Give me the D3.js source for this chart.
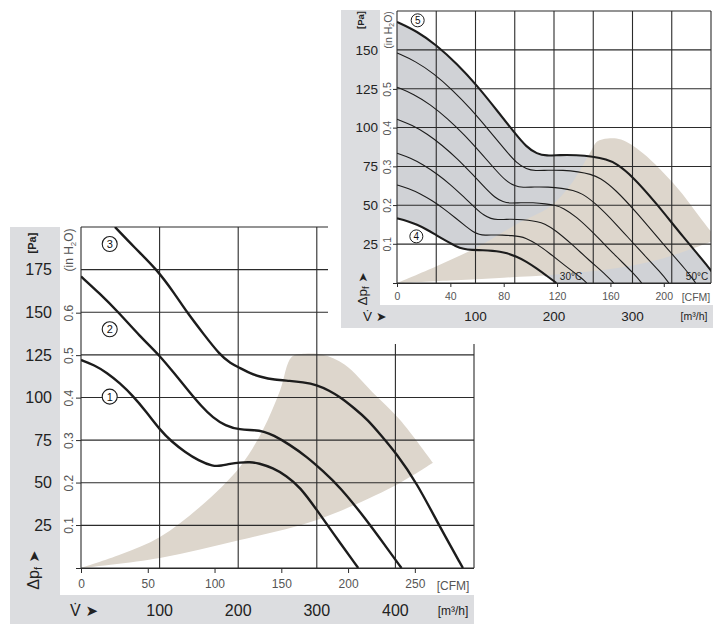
<!DOCTYPE html>
<html><head><meta charset="utf-8">
<script src="https://cdn.jsdelivr.net/npm/d3@7"></script>
<style>
body{margin:0;background:#fff;}
svg{display:block;font-family:"Liberation Sans",Arial,Helvetica,sans-serif;}
</style></head><body>
<svg id="c" width="713" height="630"></svg>
<script>
// ===== DATA: large chart (curves 1-3), [CFM, Pa] =====
const curve1 = [[0,122],[10,119],[19.5,114.5],[29,108.5],[38.9,101],[49,91.5],[59.1,81],[68,74],[77.8,68.1],[88,63],[98.8,59.6],[105,60],[111.5,61.1],[119,61.9],[126.5,62.2],[133,61.5],[143.7,58.7],[154,54],[163.9,47.6],[176.6,34.1],[188.6,20.6],[207.6,0]];
const curve2 = [[0,171],[14,161],[27.7,150.3],[44,136],[59.1,124.5],[70,114],[81.6,102.8],[90,95],[98.8,88.1],[108,83.5],[119,81],[130,81],[137,80],[143.7,78.1],[156,72.5],[169.2,65.2],[181,57],[193.9,47.6],[213.8,28.2],[228.8,12],[240,0]];
const curve3 = [[25.4,200],[40,188],[56.9,175],[70,161],[79.3,150],[92,137],[104,125],[112,120],[119,117.4],[127,114],[134,112.2],[145,110.3],[156.4,109.8],[166,109],[176.6,107.5],[186,104],[193.9,100.4],[205,93.5],[214.8,86.9],[225,77.5],[235.8,67.5],[251.5,49.9],[268.7,24.1],[286,0]];
const zoneBigUpper = [[0,0],[30,8],[59.1,18.2],[89,35.8],[119,59.3],[136.2,81],[149,104],[157.9,123.9],[167.7,125.7],[181.1,125.1],[197.6,119.2],[218.6,102.8],[238.8,86.9],[263.5,61.7]];
const zoneBigLower = [[263.5,61.7],[233.5,47.6],[176.6,28.2],[119,16.4],[59.1,5.9],[0,0]];
const bigPaTicks = [25,50,75,100,125,150,175];
const bigInTicks = [0.1,0.2,0.3,0.4,0.5,0.6];
const bigCfmTicks = [0,50,100,150,200,250];
const bigM3Ticks = [100,200,300,400];
const bigLabels = [{t:"1",cfm:21.5,pa:100.5},{t:"2",cfm:21.5,pa:140},{t:"3",cfm:21.5,pa:190}];

// ===== DATA: small chart (curves 4-5 and intermediate), [CFM, Pa] =====
const curve5 = [[0,168],[15,162],[29.7,153],[45,141],[59.6,127.5],[75,111],[88.3,96.4],[97,87.5],[105,83],[112,81.8],[122,82.4],[134.5,82.4],[147,81.3],[157,79.5],[164.4,77],[176.9,68.4],[194.4,51.3],[214.3,29.8],[235.5,8.4],[242,0]];
const curveT1 = [[0,148],[13.9,142.7],[27.5,134.8],[41.6,124.2],[55.1,112.3],[69.4,97.8],[81.7,84.9],[89.7,77.1],[97.1,73.1],[103.6,72.1],[112.9,72.6],[124.4,72.6],[136,71.6],[145.2,70],[152.1,67.8],[163.6,60.3],[179.8,45.2],[198.2,26.3],[217.8,7.4],[223.9,0]];
const curveT2 = [[0,126],[12.6,121.5],[25,114.8],[37.9,105.8],[50.2,95.6],[63.2,83.3],[74.3,72.3],[81.7,65.6],[88.4,62.3],[94.3,61.4],[102.7,61.8],[113.2,61.8],[123.8,61],[132.2,59.6],[138.4,57.8],[148.9,51.3],[163.7,38.5],[180.4,22.4],[198.3,6.3],[203.8,0]];
const curveT3 = [[0,105.4],[11.4,101.6],[22.5,96],[34.1,88.5],[45.2,80],[56.9,69.6],[66.9,60.5],[73.5,54.9],[79.6,52.1],[84.9,51.3],[92.5,51.7],[102,51.7],[111.4,51],[119,49.9],[124.6,48.3],[134.1,42.9],[147.4,32.2],[162.4,18.7],[178.5,5.3],[183.4,0]];
const curveT4 = [[0,83.5],[10.1,80.5],[19.9,76],[30.2,70.1],[40,63.4],[50.3,55.2],[59.2,47.9],[65.1,43.5],[70.5,41.3],[75.2,40.7],[81.9,41],[90.2,41],[98.6,40.4],[105.3,39.5],[110.3,38.3],[118.7,34],[130.4,25.5],[143.8,14.8],[158,4.2],[162.4,0]];
const curveT5 = [[0,63.1],[8.8,60.8],[17.4,57.5],[26.4,53],[35,47.9],[44.1,41.7],[51.9,36.2],[57,32.9],[61.7,31.2],[65.8,30.7],[71.7,30.9],[79,30.9],[86.4,30.5],[92.2,29.9],[96.6,28.9],[103.9,25.7],[114.2,19.3],[125.9,11.2],[138.4,3.2],[142.2,0]];
const curve4 = [[0,41.6],[8,39.8],[15,37.6],[22,34.6],[29.7,30.6],[37.4,26.8],[44,23.6],[50,21.8],[56,21.2],[64.6,21.1],[72,20.7],[77.1,20.2],[82,19.4],[89.6,17],[97,13.8],[104.6,9.4],[112,4.8],[119.5,0]];
const zoneSmallUpper = [[0,0],[30,11],[60,23],[90,38],[114.5,49],[130,63],[144.5,83.5],[150,91],[158,93],[168,92.3],[184.4,83.5],[209.4,62],[226.8,42.7],[240,28]];
const zoneSmallLower = [[240,28],[200,16],[164,9.5],[119.5,5.5],[80,3.4],[40,1.6],[0,0]];
const smallPaTicks = [25,50,75,100,125,150];
const smallInTicks = [0.1,0.2,0.3,0.4,0.5];
const smallCfmTicks = [0,40,80,120,160,200];
const smallM3Ticks = [100,200,300];
const smallLabels = [{t:"5",cfm:15.5,pa:169},{t:"4",cfm:14.5,pa:30}];

// ===== drawing =====
const PA_PER_INH2O = 249.09;
const svg = d3.select("#c");
const defs = svg.append("defs");
const GREY_PANEL = "#dcdde0", BEIGE = "#ddd6cc", FAN_GREY = "#d0d2d6", INK = "#1c1c1c", GRID = "#2b2b2b";

function mkLine(xs, ys){ return d3.line().x(d=>xs(d[0])).y(d=>ys(d[1])).curve(d3.curveCatmullRom.alpha(0.5)); }
function mkSmooth(xs, ys){ return d3.line().x(d=>xs(d[0])).y(d=>ys(d[1])).curve(d3.curveBasis); }
function rotText(g, x, y, size, fill, weight){
  return g.append("text").attr("transform",`translate(${x},${y}) rotate(-90)`)
    .attr("text-anchor","middle").attr("dy","0.35em").attr("font-size",size).attr("fill",fill).attr("font-weight",weight||"normal");
}
function h2o(t, size){
  t.append("tspan").text("(in H");
  t.append("tspan").text("2").attr("font-size",size*0.65).attr("dy",size*0.25);
  t.append("tspan").text("O)").attr("dy",-size*0.25);
}
function dpf(t, size){
  t.append("tspan").text("Δp");
  t.append("tspan").text("f").attr("font-size",size*0.7).attr("dy",size*0.2);
  t.append("tspan").text(" ➤").attr("dy",-size*0.2).attr("font-family","DejaVu Sans").attr("font-size",size*0.9);
}

// ---------- big chart ----------
{
  const x = d3.scaleLinear().domain([0,294.3]).range([81,474]);
  const xm = d3.scaleLinear().domain([0,500]).range([81,474]);
  const y = d3.scaleLinear().domain([0,200]).range([568,227]);
  const yi = d3.scaleLinear().domain([0,200/PA_PER_INH2O]).range([568,227]);
  const g = svg.append("g");
  g.append("rect").attr("x",10).attr("y",227).attr("width",50).attr("height",397).attr("fill",GREY_PANEL);
  g.append("rect").attr("x",10).attr("y",595).attr("width",464).attr("height",29).attr("fill",GREY_PANEL);
  defs.append("clipPath").attr("id","clipB").append("rect").attr("x",81).attr("y",227).attr("width",393).attr("height",341);
  const L = mkLine(x,y), S = mkSmooth(x,y);
  g.append("path").attr("clip-path","url(#clipB)").attr("fill",BEIGE)
    .attr("d", L(zoneBigUpper) + L(zoneBigLower).replace(/^M/,"L") + "Z");
  const gridPa = d3.range(0,201,25);
  g.selectAll(".hg").data(gridPa).join("line").attr("x1",81).attr("x2",474).attr("y1",d=>y(d)).attr("y2",d=>y(d)).attr("stroke",GRID).attr("stroke-width",1.1);
  g.selectAll(".vg").data([0,100,200,300,400,500]).join("line").attr("x1",d=>xm(d)).attr("x2",d=>xm(d)).attr("y1",227).attr("y2",568).attr("stroke",GRID).attr("stroke-width",1.1);
  const ax = d3.axisBottom(x).tickValues(bigCfmTicks).tickSize(5).tickPadding(6);
  const axg = g.append("g").attr("transform","translate(0,568)").call(ax);
  axg.select(".domain").attr("stroke",GRID).attr("d","M76,0.5H474");
  axg.selectAll(".tick line").attr("stroke",GRID);
  axg.selectAll(".tick text").attr("font-size",12).attr("fill","#555").attr("font-family","Liberation Sans, Arial, sans-serif");
  g.append("text").attr("x",453).attr("y",590).attr("text-anchor","middle").attr("font-size",12).attr("fill","#555").text("[CFM]");
  g.selectAll(".m3").data(bigM3Ticks).join("text").attr("x",d=>xm(d)).attr("y",616).attr("text-anchor","middle").attr("font-size",16).attr("fill","#222").text(d=>d);
  g.append("text").attr("x",453).attr("y",615).attr("text-anchor","middle").attr("font-size",12).attr("fill","#222").text("[m³/h]");
  const vt = g.append("text").attr("x",70).attr("y",616).attr("font-size",16).attr("fill","#222");
  vt.append("tspan").text("V̇");
  vt.append("tspan").text(" ➤").attr("font-family","DejaVu Sans").attr("font-size",15);
  const ay = d3.axisLeft(y).tickValues(bigPaTicks).tickSize(0).tickPadding(3);
  const ayg = g.append("g").attr("transform","translate(55,0)").call(ay);
  ayg.select(".domain").remove();
  ayg.selectAll(".tick text").attr("font-size",16).attr("fill","#222").attr("font-family","Liberation Sans, Arial, sans-serif");
  rotText(g,32,243,11,"#222","bold").text("[Pa]");
  g.selectAll(".it").data(bigInTicks).join("line").attr("x1",76).attr("x2",81).attr("y1",d=>yi(d)).attr("y2",d=>yi(d)).attr("stroke",GRID);
  g.selectAll(".il").data(bigInTicks).join("text").attr("transform",d=>`translate(69,${yi(d)}) rotate(-90)`)
    .attr("text-anchor","middle").attr("dy","0.35em").attr("font-size",12).attr("fill","#555").text(d=>d.toFixed(1));
  h2o(rotText(g,69,250,12,"#555"),12);
  dpf(rotText(g,33,570,16,"#222"),16);
  [curve1,curve2,curve3].forEach(c=>{
    g.append("path").attr("clip-path","url(#clipB)").attr("d",S(c)).attr("fill","none").attr("stroke",INK).attr("stroke-width",2.4);
  });
  bigLabels.forEach(l=>{
    g.append("circle").attr("cx",x(l.cfm)).attr("cy",y(l.pa)).attr("r",7.5).attr("fill","#fff").attr("stroke",INK).attr("stroke-width",1.1);
    g.append("text").attr("x",x(l.cfm)).attr("y",y(l.pa)).attr("dy","0.36em").attr("text-anchor","middle").attr("font-size",11).attr("fill","#111").text(l.t);
  });
}

// inset padding
svg.append("rect").attr("x",328).attr("y",0).attr("width",385).attr("height",344).attr("fill","#fff");

// ---------- small chart ----------
{
  const x = d3.scaleLinear().domain([0,235.4]).range([397,711]);
  const xm = d3.scaleLinear().domain([0,400]).range([397,711]);
  const y = d3.scaleLinear().domain([0,175]).range([283,11]);
  const yi = d3.scaleLinear().domain([0,175/PA_PER_INH2O]).range([283,11]);
  const g = svg.append("g");
  g.append("rect").attr("x",341).attr("y",10).attr("width",39).attr("height",318).attr("fill",GREY_PANEL);
  g.append("rect").attr("x",341).attr("y",305).attr("width",372).attr("height",23).attr("fill",GREY_PANEL);
  defs.append("clipPath").attr("id","clipS").append("rect").attr("x",397).attr("y",11).attr("width",314).attr("height",272);
  const L = mkLine(x,y), S = mkSmooth(x,y);
  g.append("path").attr("clip-path","url(#clipS)").attr("fill",FAN_GREY)
    .attr("d", S(curve5) + S(curve4.slice().reverse()).replace(/^M/,"L") + "Z");
  g.append("path").attr("clip-path","url(#clipS)").attr("fill",BEIGE)
    .attr("d", L(zoneSmallUpper) + L(zoneSmallLower).replace(/^M/,"L") + "Z");
  const gridPa = d3.range(0,176,25);
  g.selectAll(".hg").data(gridPa).join("line").attr("x1",397).attr("x2",711).attr("y1",d=>y(d)).attr("y2",d=>y(d)).attr("stroke",GRID).attr("stroke-width",1.1);
  g.selectAll(".vg").data(d3.range(0,401,50)).join("line").attr("x1",d=>xm(d)).attr("x2",d=>xm(d)).attr("y1",11).attr("y2",283).attr("stroke",GRID).attr("stroke-width",1.1);
  const ax = d3.axisBottom(x).tickValues(smallCfmTicks).tickSize(4).tickPadding(6);
  const axg = g.append("g").attr("transform","translate(0,283)").call(ax);
  axg.select(".domain").attr("stroke",GRID).attr("d","M393,0.5H711");
  axg.selectAll(".tick line").attr("stroke",GRID);
  axg.selectAll(".tick text").attr("font-size",10.5).attr("fill","#555").attr("font-family","Liberation Sans, Arial, sans-serif");
  g.append("text").attr("x",696).attr("y",301).attr("text-anchor","middle").attr("font-size",10.5).attr("fill","#555").text("[CFM]");
  g.selectAll(".m3").data(smallM3Ticks).join("text").attr("x",d=>xm(d)).attr("y",321).attr("text-anchor","middle").attr("font-size",13.5).attr("fill","#222").text(d=>d);
  g.append("text").attr("x",694).attr("y",320).attr("text-anchor","middle").attr("font-size",10.5).attr("fill","#222").text("[m³/h]");
  const vt = g.append("text").attr("x",363).attr("y",321).attr("font-size",13.5).attr("fill","#222");
  vt.append("tspan").text("V̇");
  vt.append("tspan").text(" ➤").attr("font-family","DejaVu Sans").attr("font-size",12.5);
  const ay = d3.axisLeft(y).tickValues(smallPaTicks).tickSize(0).tickPadding(2);
  const ayg = g.append("g").attr("transform","translate(380,0)").call(ay);
  ayg.select(".domain").remove();
  ayg.selectAll(".tick text").attr("font-size",13.5).attr("fill","#222").attr("font-family","Liberation Sans, Arial, sans-serif");
  rotText(g,361,20,9.5,"#222","bold").text("[Pa]");
  g.selectAll(".it").data(smallInTicks).join("line").attr("x1",393).attr("x2",397).attr("y1",d=>yi(d)).attr("y2",d=>yi(d)).attr("stroke",GRID);
  g.selectAll(".il").data(smallInTicks).join("text").attr("transform",d=>`translate(387,${yi(d)}) rotate(-90)`)
    .attr("text-anchor","middle").attr("dy","0.35em").attr("font-size",10.5).attr("fill","#555").text(d=>d.toFixed(1));
  h2o(rotText(g,388,30,10.5,"#555"),10.5);
  dpf(rotText(g,362,289,13.5,"#222"),13.5);
  [curveT1,curveT2,curveT3,curveT4,curveT5].forEach(c=>{
    g.append("path").attr("clip-path","url(#clipS)").attr("d",S(c)).attr("fill","none").attr("stroke",INK).attr("stroke-width",1.1);
  });
  [curve5,curve4].forEach(c=>{
    g.append("path").attr("clip-path","url(#clipS)").attr("d",S(c)).attr("fill","none").attr("stroke",INK).attr("stroke-width",2.1);
  });
  smallLabels.forEach(l=>{
    g.append("circle").attr("cx",x(l.cfm)).attr("cy",y(l.pa)).attr("r",6.5).attr("fill","#fff").attr("stroke",INK).attr("stroke-width",1);
    g.append("text").attr("x",x(l.cfm)).attr("y",y(l.pa)).attr("dy","0.36em").attr("text-anchor","middle").attr("font-size",10).attr("fill","#111").text(l.t);
  });
  g.append("text").attr("x",571).attr("y",280).attr("text-anchor","middle").attr("font-size",10).attr("fill","#222").text("30°C");
  g.append("text").attr("x",697).attr("y",280).attr("text-anchor","middle").attr("font-size",10).attr("fill","#222").text("50°C");
}
</script>
</body></html>
